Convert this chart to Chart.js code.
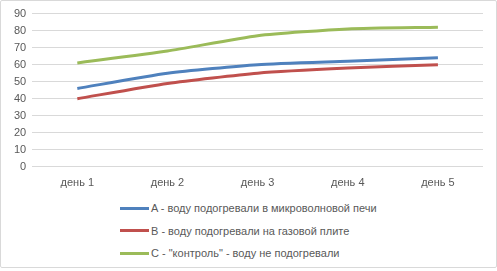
<!DOCTYPE html>
<html>
<head>
<meta charset="utf-8">
<script src="https://cdn.jsdelivr.net/npm/chart.js@4"></script>
<style>
    html, body { margin: 0; padding: 0; background: #fff; }
    #wrap { position: relative; width: 495px; height: 266px; border: 1px solid #d9d9d9; border-radius: 2px; font-family: "Liberation Sans", "DejaVu Sans", sans-serif; }
    #chart-box { position: absolute; left: 0; top: 0; width: 495px; height: 191px; }
    #legend { position: absolute; left: 119px; top: 196px; }
    .leg-item { display: flex; align-items: center; height: 22.5px; font-size: 11px; color: #595959; }
    .leg-line { width: 29px; height: 3px; margin-right: 2px; }
</style>
</head>
<body>
<div id="wrap">
    <div id="chart-box"><canvas id="chart"></canvas></div>
    <div id="legend"></div>
</div>
<script>
const days = ["день 1", "день 2", "день 3", "день 4", "день 5"];
const seriesNames = [
    "A - воду подогревали в микроволновой печи",
    "B - воду подогревали на газовой плите",
    "C - \"контроль\" - воду не подогревали"
];
const seriesA = [46, 55, 60, 62, 64];
const seriesB = [40, 49, 55, 58, 60];
const seriesC = [61, 68, 77, 81, 82];
const colors = ["#4F81BD", "#C0504D", "#9BBB59"];

const datasets = [seriesA, seriesB, seriesC].map((vals, i) => ({
    label: seriesNames[i],
    data: vals,
    borderColor: colors[i],
    backgroundColor: colors[i],
    borderWidth: 3,
    pointRadius: 0,
    tension: 0.2,
    fill: false,
}));

const ctx = document.getElementById("chart").getContext("2d");
const chart = new Chart(ctx, {
    type: "line",
    data: { labels: days, datasets: datasets },
    options: {
        responsive: true,
        maintainAspectRatio: false,
        animation: false,
        layout: { padding: { left: 7, right: 13, top: 11, bottom: 0 } },
        plugins: { legend: { display: false }, tooltip: { enabled: false } },
        scales: {
            x: {
                offset: true,
                grid: { display: false },
                border: { display: false },
                ticks: { autoSkip: false, maxRotation: 0, color: "#595959", font: { size: 11, family: "Liberation Sans" }, padding: 2 },
            },
            y: {
                min: 0,
                max: 90,
                ticks: { stepSize: 10, autoSkip: false, color: "#595959", font: { size: 11, family: "Liberation Sans" }, padding: 6 },
                grid: { color: "#d9d9d9", drawTicks: false },
                border: { display: false },
            },
        },
    },
});

// legend stacked vertically, like the original
const legendDiv = document.getElementById("legend");
legendDiv.innerHTML = datasets
    .map((d) => `<div class="leg-item"><span class="leg-line" style="background:${d.borderColor}"></span>${d.label}</div>`)
    .join("");
</script>
</body>
</html>
